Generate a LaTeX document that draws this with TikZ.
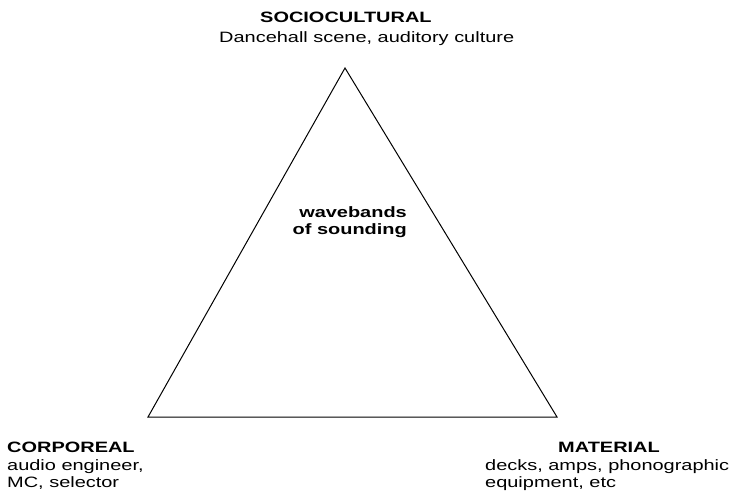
\documentclass[tikz,border=0pt]{standalone}
\usepackage{fontspec}
\setmainfont{Liberation Sans}[FakeStretch=1.33]
\begin{document}
\begin{tikzpicture}[x=1pt,y=-1pt,
  lbl/.style={inner sep=0pt,anchor=base west,font=\fontsize{15}{17.5}\selectfont},
  head/.style={lbl,font=\fontsize{15}{17.5}\selectfont\bfseries},
  tri/.style={draw=black,line width=1pt,line join=miter}]
\useasboundingbox (0,0) rectangle (733,497);
\coordinate (apex) at (345,68);
\coordinate (bl) at (148,417);
\coordinate (br) at (557,417);
\draw[tri] (apex) -- (bl) -- (br) -- cycle;
% top
\node[head] (soc) at (260,23) {SOCIOCULTURAL};
\node[lbl] (socd) at (219,43) {Dancehall scene, auditory culture};
% centre
\node[head,anchor=base east] (wave1) at (407,217) {wavebands};
\node[head,anchor=base east] (wave2) at (407,234) {of sounding};
% bottom left
\node[head] (cor) at (7,452) {CORPOREAL};
\node[lbl] (cor1) at (7,470) {audio engineer,};
\node[lbl] (cor2) at (7,487) {MC, selector};
% bottom right
\node[head] (mat) at (558,452) {MATERIAL};
\node[lbl] (mat1) at (485,470) {decks, amps, phonographic};
\node[lbl] (mat2) at (485,487) {equipment, etc};
\end{tikzpicture}
\end{document}
